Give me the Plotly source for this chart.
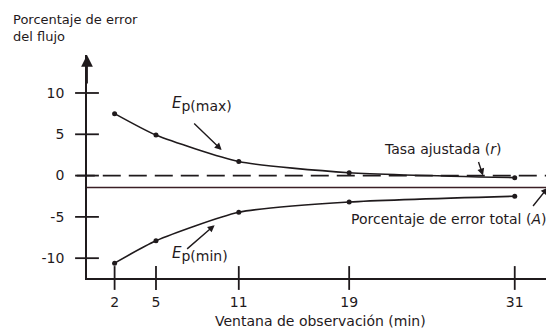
import plotly.graph_objects as go

# ── Data ─────────────────────────────────────────────────────────────────────
WINDOWS = [2, 5, 11, 19, 31]                  # ventana de observación (min)
EP_MAX = [7.5, 4.9, 1.7, 0.35, -0.25]         # E_p(max)
EP_MIN = [-10.6, -7.9, -4.45, -3.2, -2.5]     # E_p(min)
ADJUSTED_RATE = 0.0                           # tasa ajustada (r)
TOTAL_ERROR = -1.45                           # porcentaje de error total (A)
Y_TICKS = [10, 5, 0, -5, -10]
Y_TICK_TEXT = ["10", "5", "0", "-5", "-10"]
X_RANGE = [0, 33.7]
Y_RANGE = [-12.4, 14.6]

INK = "#1f1a1c"
MAROON = "#3b1f25"
FONT = "DejaVu Sans, Liberation Sans, sans-serif"

fig = go.Figure()

# curves
for ys in (EP_MAX, EP_MIN):
    fig.add_trace(go.Scatter(
        x=WINDOWS, y=ys, mode="lines+markers",
        line=dict(color=INK, width=1.6, shape="spline", smoothing=0.6),
        marker=dict(size=5, color=INK),
        showlegend=False, hoverinfo="skip", cliponaxis=False,
    ))

# cross ticks on both axes
fig.add_trace(go.Scatter(
    x=WINDOWS, y=[Y_RANGE[0]] * len(WINDOWS), mode="markers",
    marker=dict(symbol="line-ns", size=17, line=dict(color=INK, width=1.8)),
    showlegend=False, hoverinfo="skip", cliponaxis=False,
))
fig.add_trace(go.Scatter(
    x=[X_RANGE[0]] * len(Y_TICKS), y=Y_TICKS, mode="markers",
    marker=dict(symbol="line-ew", size=17, line=dict(color=INK, width=1.8)),
    showlegend=False, hoverinfo="skip", cliponaxis=False,
))
# dot at the end of the x axis
fig.add_trace(go.Scatter(
    x=[X_RANGE[1]], y=[Y_RANGE[0]], mode="markers",
    marker=dict(size=7, color=INK),
    showlegend=False, hoverinfo="skip", cliponaxis=False,
))

# reference lines
fig.add_shape(type="line", xref="paper", x0=-0.022, x1=1.0,
              y0=ADJUSTED_RATE, y1=ADJUSTED_RATE,
              line=dict(color=INK, width=1.6, dash="18px,8px"))
fig.add_shape(type="line", xref="paper", x0=0, x1=1.0,
              y0=TOTAL_ERROR, y1=TOTAL_ERROR,
              line=dict(color=MAROON, width=1.6))

ann = dict(font=dict(family=FONT, size=14, color=INK), showarrow=False)
arr = dict(showarrow=True, arrowhead=2, arrowsize=1, arrowwidth=1.4,
           arrowcolor=INK)
ep_font = dict(family=FONT, size=15, color=INK)

# the page body adds an 8px offset, so the figure is 8px smaller
fig.update_layout(
    width=546, height=324,
    paper_bgcolor="white", plot_bgcolor="white",
    margin=dict(l=79, r=2, t=47, b=54),
    font=dict(family=FONT, size=14, color=INK),
    xaxis=dict(
        range=X_RANGE, tickvals=WINDOWS, ticks="", showgrid=False,
        zeroline=False, showline=True, linecolor=INK, linewidth=1.8,
        tickfont=dict(size=14, color=INK), ticklabelstandoff=10,
        automargin=False,
    ),
    yaxis=dict(
        range=Y_RANGE, tickvals=Y_TICKS, ticktext=Y_TICK_TEXT, ticks="",
        showgrid=False, zeroline=False, showline=True, linecolor=INK,
        linewidth=1.8, tickfont=dict(size=14, color=INK),
        ticklabelstandoff=18, automargin=False,
    ),
    annotations=[
        dict(text="Porcentaje de error<br>del flujo", xref="paper",
             yref="paper", x=-0.163, y=1.2, xanchor="left", yanchor="top",
             align="left", font=dict(family=FONT, size=13, color=INK),
             showarrow=False),
        dict(text="Ventana de observación (min)", xref="paper",
             yref="paper", x=0.503, y=-0.193, xanchor="center",
             yanchor="middle", **ann),
        # y axis arrow
        dict(x=X_RANGE[0], y=Y_RANGE[1], ax=0, ay=30, xref="x", yref="y",
             text="", **{**arr, "arrowsize": 1.3, "arrowwidth": 1.8}),
        dict(text="<i>E</i><sub><span style='font-size:14px'>p(max)</span></sub>",
             x=6.0, y=8.7, xref="x", yref="y", xanchor="left",
             font=ep_font, showarrow=False),
        dict(x=9.76, y=3.1, ax=-29, ay=-28, xref="x", yref="y", text="",
             **arr),
        dict(text="<i>E</i><sub><span style='font-size:14px'>p(min)</span></sub>",
             x=6.0, y=-9.5, xref="x", yref="y", xanchor="left",
             font=ep_font, showarrow=False),
        dict(x=9.25, y=-6.0, ax=-29, ay=25, xref="x", yref="y", text="",
             **arr),
        dict(text="Tasa ajustada (<i>r</i>)", x=25.75, y=3.2, xref="x",
             yref="y", **ann),
        dict(x=28.7, y=0.0, ax=-5, ay=-15, xref="x", yref="y", text="",
             **arr),
        dict(text="Porcentaje de error total (<i>A</i>)", x=18.97, y=-5.3,
             xref="x", yref="y", xanchor="left", **ann),
        dict(x=33.4, y=TOTAL_ERROR, ax=-16, ay=20, xref="x", yref="y",
             text="", **arr),
    ],
)

fig.write_html("out.html")
